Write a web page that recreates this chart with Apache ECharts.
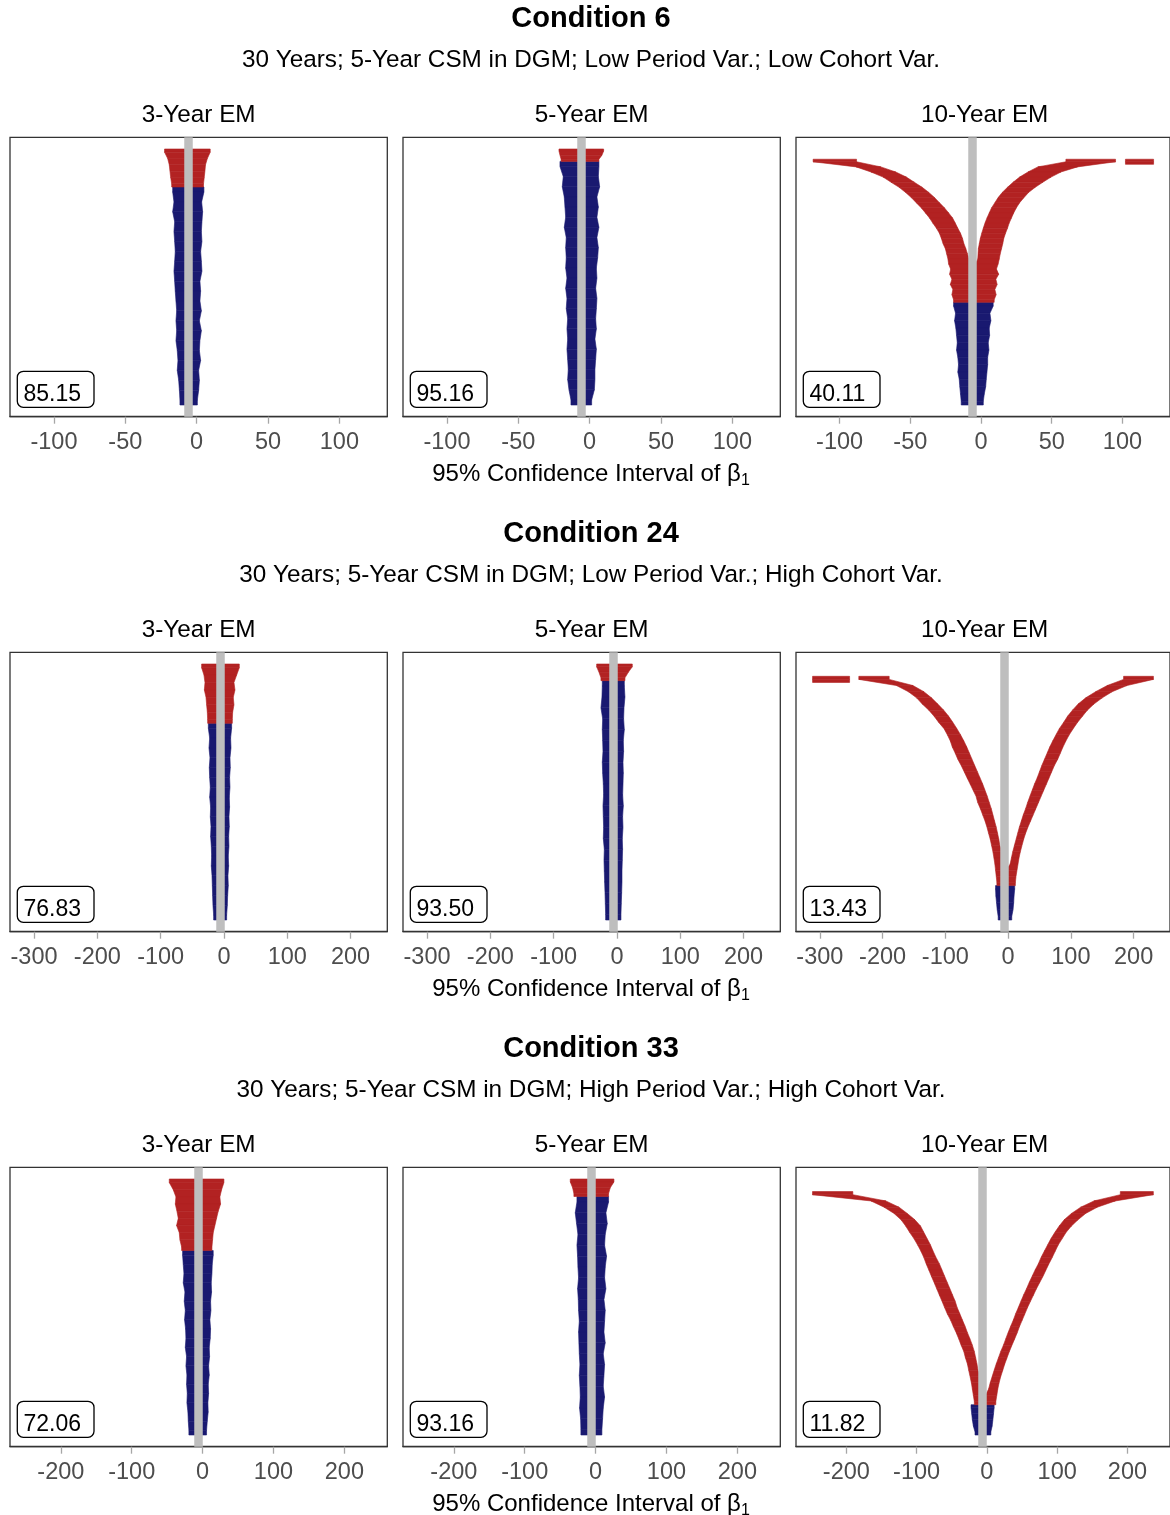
<!DOCTYPE html>
<html>
<head>
<meta charset="utf-8">
<script src="https://cdn.jsdelivr.net/npm/echarts@6/dist/echarts.min.js"></script>
<style>
  html, body { margin: 0; padding: 0; background: #fff; }
  #chart { width: 1170px; height: 1515px; }
</style>
</head>
<body>
<div id="chart"></div>
<script>
const conditions = ["Condition 6", "Condition 24", "Condition 33"];
const subtitles = [
  "30 Years; 5-Year CSM in DGM; Low Period Var.; Low Cohort Var.",
  "30 Years; 5-Year CSM in DGM; Low Period Var.; High Cohort Var.",
  "30 Years; 5-Year CSM in DGM; High Period Var.; High Cohort Var."
];
const models = ["3-Year EM", "5-Year EM", "10-Year EM"];
const coverage = [[85.15, 95.16, 40.11], [76.83, 93.50, 13.43], [72.06, 93.16, 11.82]];
const trueBeta = -6;
const xRanges = [[-130.8, 133.6], [-338, 258], [-271.7, 260.6]];
const xTicks = [[-100, -50, 0, 50, 100], [-300, -200, -100, 0, 100, 200], [-200, -100, 0, 100, 200]];

// rows sorted top to bottom; missLeft / missRight = intervals entirely below / above beta,
// cover = intervals containing beta. null = interval outside the plotted range.
const c6m3MissLeft = [[-22.5, -8], [-20.3, -8], [-19.2, -8], [-18.7, -8], [-18.2, -8], [-17.5, -8]];
const c6m3MissRight = [[-4, 9.5], [-4, 7.5], [-4, 6.2], [-4, 5.8], [-4, 5.3], [-4, 4.8]];
const c6m3Cover = [[-16.8, 5.1], [-15.9, 3.5], [-16.8, 4.2], [-15.4, 3.7], [-15.9, 3.3], [-15.4, 3.7],
  [-15.0, 2.8], [-15.4, 3.3], [-15.9, 3.7], [-15.4, 2.3], [-15.0, 2.8], [-14.5, 2.3], [-14.0, 3.3],
  [-14.5, 1.9], [-14.0, 3.3], [-14.5, 2.3], [-13.6, 1.9], [-13.1, 2.8], [-13.6, 1.4], [-12.6, 1.9],
  [-12.1, 1.4], [-11.7, 0.5]];

const c6m5MissLeft = [[-21.5, -8], [-20.8, -8], [-20.0, -8]];
const c6m5MissRight = [[-4, 9.8], [-4, 8.6], [-4, 6.5]];
const c6m5Cover = [[-20.8, 6.5], [-18.5, 6.1], [-19.2, 7.0], [-17.8, 5.1], [-17.3, 6.1], [-16.8, 5.1],
  [-17.8, 6.5], [-16.4, 5.1], [-16.8, 6.1], [-16.4, 5.6], [-16.8, 4.7], [-15.9, 5.1], [-16.8, 4.2],
  [-15.9, 5.1], [-16.4, 4.7], [-15.4, 4.2], [-15.9, 4.7], [-15.4, 3.7], [-15.9, 4.7], [-15.4, 4.2],
  [-15.0, 3.7], [-15.4, 3.7], [-14.5, 3.3], [-13.1, 1.4]];

const c6m10MissLeft = [null, null, [-118.7, -88], [-88.3, -70.8], [-77.8, -60.3], [-69.2, -52.8],
  [-63.6, -47.2], [-57.9, -41.6], [-53.3, -36.9], [-49.3, -32.9], [-45.8, -29.4], [-42.3, -25.9],
  [-39.3, -22.9], [-36.4, -20.1], [-34.1, -18.2], [-31.5, -16.4], [-29.4, -14.5], [-28.0, -13.1],
  [-26.9, -12.1], [-25.2, -10.7], [-24.3, -9.6], [-23.4, -8.5], [-22.9, -8], [-21.5, -8], [-22.2, -8],
  [-20.6, -8], [-21.7, -8], [-19.9, -8], [-20.6, -8], [-19.4, -8]];
const c6m10MissRight = [null, null, [60, 95.1], [40.2, 68.2], [33.2, 56.5], [27.3, 49.5],
  [22.7, 43.7], [18.7, 38.3], [15.0, 33.6], [12.1, 30.4], [9.8, 27.3], [7.5, 25.0],
  [5.8, 23.1], [4.2, 21.5], [2.8, 19.9], [1.6, 18.7], [0.5, 17.3], [-0.5, 16.1],
  [-1.2, 15.4], [-1.9, 14.5], [-2.1, 13.6], [-2.3, 12.9], [-4, 12.1], [-4, 10.9], [-4, 12.5],
  [-4, 10.5], [-4, 11.4], [-4, 9.8], [-4, 10.7], [-4, 9.3]];
const c6m10Extra = [[2, 102.1, 122.0]];
const c6m10Cover = [[-19.4, 8.6], [-18.0, 6.3], [-18.7, 7.0], [-17.8, 5.8], [-17.3, 6.1], [-16.8, 5.1],
  [-17.3, 5.6], [-16.4, 4.7], [-15.9, 4.7], [-16.4, 4.2], [-15.4, 3.7], [-15.0, 3.3], [-14.5, 2.3],
  [-14.0, 1.6]];

const c24m3MissLeft = [[-35.3, -9], [-31.6, -9], [-30.0, -9], [-31.0, -9], [-28.4, -9], [-27.4, -9],
  [-26.3, -9], [-25.8, -9]];
const c24m3MissRight = [[-3, 24.2], [-3, 20.0], [-3, 15.8], [-3, 17.4], [-3, 14.7], [-3, 15.8],
  [-3, 13.7], [-3, 13.2]];
const c24m3Cover = [[-24.7, 12.1], [-22.6, 10.5], [-23.7, 11.1], [-22.1, 9.5], [-23.2, 10.0],
  [-22.6, 8.9], [-21.6, 9.5], [-22.6, 8.4], [-21.1, 8.9], [-21.6, 7.9], [-20.5, 8.4], [-21.1, 7.4],
  [-20.0, 7.9], [-19.5, 6.8], [-20.0, 7.4], [-18.9, 6.3], [-18.4, 6.8], [-17.9, 5.8], [-17.4, 5.3],
  [-16.3, 4.2]];

const c24m5MissLeft = [[-32.1, -9], [-28.4, -9], [-25.3, -9]];
const c24m5MissRight = [[-3, 24.2], [-3, 17.9], [-3, 12.6]];
const c24m5Cover = [[-23.2, 11.6], [-23.7, 12.6], [-25.3, 11.1], [-22.6, 10.5], [-23.2, 11.6],
  [-22.6, 10.0], [-22.1, 10.5], [-23.2, 9.5], [-22.6, 10.0], [-21.6, 9.5], [-21.1, 9.0], [-22.1, 10.0],
  [-21.6, 8.9], [-21.1, 9.5], [-21.6, 8.4], [-20.0, 8.9], [-20.5, 8.4], [-20.0, 7.9], [-19.5, 7.9],
  [-18.9, 7.4], [-18.4, 6.8], [-17.9, 6.3]];

const c24m10MissLeft = [null, null, [-237.9, -189.5], [-177.9, -151.6], [-158.9, -134.2],
  [-145.8, -122.1], [-136.8, -112.1], [-126.3, -102.6], [-117.9, -94.7], [-110.5, -87.9],
  [-102.1, -81.6], [-96.8, -75.8], [-92.1, -70.5], [-88.9, -65.8], [-84.2, -61.6], [-80.0, -57.4],
  [-74.7, -53.2], [-70.0, -48.9], [-65.3, -44.7], [-60.5, -40.5], [-55.8, -36.8], [-51.1, -33.2],
  [-48.4, -30.0], [-44.2, -26.8], [-40.5, -24.2], [-36.8, -21.6], [-33.7, -18.9], [-31.1, -16.8],
  [-28.4, -14.7], [-26.3, -13.2], [-24.2, -9], [-22.6, -9], [-21.1, -9], [-20.0, -9], [-18.9, -9],
  [-17.9, -9]];
const c24m10MissRight = [null, null, [184, 231.6], [157.9, 189.5], [139.5, 165.8], [123.7, 150.0],
  [111.6, 136.8], [102.6, 126.3], [94.7, 118.4], [88.4, 110.5], [81.6, 103.7], [76.3, 97.4],
  [71.1, 92.1], [66.3, 87.4], [62.1, 83.2], [57.9, 78.9], [53.7, 73.7], [50.0, 69.5], [46.3, 65.3],
  [42.1, 61.1], [38.4, 56.8], [34.7, 52.6], [31.1, 48.4], [27.9, 44.2], [24.2, 40.0], [21.1, 35.8],
  [17.9, 31.6], [15.3, 27.9], [12.6, 24.7], [10.0, 22.1], [7.4, 19.5], [5.3, 17.4], [3.2, 15.8],
  [-3, 14.2], [-3, 12.6], [-3, 11.6]];
const c24m10Extra = [[2, -311.6, -252.6]];
const c24m10Cover = [[-20.0, 10.5], [-19.5, 9.5], [-18.4, 8.9], [-17.4, 7.9], [-15.8, 5.8]];

const c33m3MissLeft = [[-47.0, -10], [-41.4, -10], [-37.6, -10], [-38.5, -10], [-36.2, -10],
  [-34.3, -10], [-36.7, -10], [-32.9, -10], [-32.0, -10], [-29.6, -10]];
const c33m3MissRight = [[-2, 30.1], [-2, 26.8], [-2, 24.4], [-2, 25.4], [-2, 22.1], [-2, 19.7],
  [-2, 17.4], [-2, 15.0], [-2, 14.1], [-2, 13.2]];
const c33m3Cover = [[-28.2, 15.0], [-27.3, 13.6], [-26.3, 13.2], [-27.3, 12.2], [-24.9, 12.7],
  [-25.9, 11.3], [-24.4, 11.8], [-25.4, 10.3], [-24.0, 11.3], [-23.5, 10.8], [-24.4, 9.4],
  [-22.6, 9.9], [-23.5, 8.5], [-22.1, 9.4], [-22.6, 8.0], [-21.6, 8.5], [-22.1, 7.5], [-20.7, 7.9],
  [-20.2, 6.6], [-19.3, 5.6]];

const c33m5MissLeft = [[-35.7, -9], [-32.4, -9], [-30.6, -9]];
const c33m5MissRight = [[-2, 25.9], [-2, 20.7], [-2, 18.3]];
const c33m5Cover = [[-26.3, 18.3], [-28.7, 14.6], [-26.8, 16.5], [-24.9, 13.6], [-26.3, 12.7],
  [-25.4, 15.5], [-24.9, 13.6], [-24.0, 12.7], [-25.4, 14.6], [-24.4, 11.8], [-24.0, 13.6],
  [-23.0, 12.7], [-24.0, 11.8], [-23.5, 13.6], [-23.0, 10.8], [-22.1, 12.7], [-23.0, 11.8],
  [-22.1, 10.8], [-21.6, 12.7], [-22.6, 10.8], [-21.1, 9.9], [-20.7, 8.9]];

const c33m10MissLeft = [null, null, [-248.2, -190.8], [-165.0, -143.8], [-146.2, -125.0],
  [-132.1, -113.3], [-122.2, -102.5], [-115.6, -94.5], [-110.0, -89.8], [-103.9, -85.1],
  [-98.7, -80.4], [-94.0, -76.6], [-89.8, -72.4], [-86.5, -67.7], [-82.7, -63.9], [-79.0, -60.2],
  [-75.2, -56.4], [-71.4, -52.6], [-67.7, -48.9], [-63.9, -45.1], [-60.2, -42.3], [-56.4, -38.5],
  [-51.7, -34.8], [-47.9, -31.0], [-43.7, -27.7], [-40.0, -24.0], [-36.7, -20.7], [-32.9, -17.9],
  [-30.6, -16.0], [-27.7, -14.1], [-25.9, -12.7], [-24.0, -9], [-22.1, -9], [-20.7, -9], [-19.3, -9],
  [-17.9, -9]];
const c33m10MissRight = [null, null, [189.9, 236.9], [152.3, 182.8], [133.5, 157.0], [120.3, 140.5],
  [110.0, 129.7], [102.9, 120.3], [96.8, 112.8], [91.2, 107.2], [86.5, 101.6], [81.8, 97.3],
  [77.1, 93.0], [73.3, 88.4], [68.6, 84.1], [64.4, 79.9], [60.2, 75.2], [56.4, 70.5], [52.2, 66.3],
  [48.4, 62.0], [44.7, 57.8], [40.9, 54.1], [37.6, 50.3], [33.8, 46.5], [30.1, 43.2], [26.8, 39.5],
  [23.5, 35.7], [19.7, 32.0], [16.5, 28.7], [13.2, 25.4], [10.3, 22.6], [7.5, 19.7], [4.7, 17.4],
  [2.4, 15.5], [-2, 14.1], [-2, 12.7]];
const c33m10Cover = [[-22.6, 10.3], [-21.6, 9.4], [-20.7, 8.5], [-19.3, 7.5], [-16.9, 5.6]];

const panels = [
  [
    { left: c6m3MissLeft, right: c6m3MissRight, cover: c6m3Cover, extra: [] },
    { left: c6m5MissLeft, right: c6m5MissRight, cover: c6m5Cover, extra: [] },
    { left: c6m10MissLeft, right: c6m10MissRight, cover: c6m10Cover, extra: c6m10Extra }
  ],
  [
    { left: c24m3MissLeft, right: c24m3MissRight, cover: c24m3Cover, extra: [] },
    { left: c24m5MissLeft, right: c24m5MissRight, cover: c24m5Cover, extra: [] },
    { left: c24m10MissLeft, right: c24m10MissRight, cover: c24m10Cover, extra: c24m10Extra }
  ],
  [
    { left: c33m3MissLeft, right: c33m3MissRight, cover: c33m3Cover, extra: [] },
    { left: c33m5MissLeft, right: c33m5MissRight, cover: c33m5Cover, extra: [] },
    { left: c33m10MissLeft, right: c33m10MissRight, cover: c33m10Cover, extra: [] }
  ]
];

const RED = "#b22222";
const BLUE = "#191970";
const FONT = "'Liberation Sans', Arial, Helvetica, sans-serif";

const gridLefts = [10, 403, 796];
const gridW = 377.3;
const gridH = 279.4;
const firstTop = 137.3;
const rowStep = 515;

// turn a run of interval rows [lo, hi, yTop, yBottom] into band pieces
function band(rows) {
  const out = [];
  let run = [];
  const flush = () => {
    if (!run.length) return;
    const f = run[0], l = run[run.length - 1];
    const pts = [[f[0], f[1], f[2]]];
    run.forEach(r => pts.push([r[0], r[1], (r[2] + r[3]) / 2]));
    pts.push([l[0], l[1], l[3]]);
    for (let k = 0; k < pts.length - 1; k++) out.push(pts[k].concat(pts[k + 1]));
    run = [];
  };
  rows.forEach(r => { if (r) run.push(r); else flush(); });
  flush();
  return out;
}

function renderBand(params, api) {
  const color = api.visual("color");
  return {
    type: "polygon",
    shape: {
      points: [
        api.coord([api.value(0), api.value(2)]),
        api.coord([api.value(1), api.value(2)]),
        api.coord([api.value(4), api.value(5)]),
        api.coord([api.value(3), api.value(5)])
      ]
    },
    style: { fill: color, stroke: color, lineWidth: 0.6 }
  };
}

const grids = [], xAxes = [], yAxes = [], series = [], graphics = [];

conditions.forEach((cond, r) => {
  const off = r * rowStep;
  graphics.push({
    type: "text", x: 591, y: 19 + off,
    style: { text: cond, font: "bold 29px " + FONT, fill: "#000", align: "center", verticalAlign: "middle" }
  });
  graphics.push({
    type: "text", x: 591, y: 60.5 + off,
    style: { text: subtitles[r], font: "24.3px " + FONT, fill: "#000", align: "center", verticalAlign: "middle" }
  });
  graphics.push({
    type: "text", x: 591, y: 474 + off,
    style: {
      text: "{m|95% Confidence Interval of β}{s|1}",
      align: "center", verticalAlign: "middle",
      rich: {
        m: { font: "24px " + FONT, fill: "#000", lineHeight: 30 },
        s: { font: "16px " + FONT, fill: "#000", lineHeight: 14, verticalAlign: "bottom" }
      }
    }
  });

  models.forEach((model, c) => {
    const idx = grids.length;
    const gl = gridLefts[c];
    const gt = firstTop + off;
    grids.push({
      left: gl, top: gt, width: gridW, height: gridH,
      show: true, borderColor: "#333", borderWidth: 1.3, backgroundColor: "#fff"
    });
    xAxes.push({
      gridIndex: idx, type: "value", position: "bottom", min: xRanges[r][0], max: xRanges[r][1],
      axisLine: { show: true, onZero: false, lineStyle: { color: "#333", width: 1.3 } },
      splitLine: { show: false },
      axisTick: {
        show: true, inside: false, length: 7, customValues: xTicks[r],
        lineStyle: { color: "#a6a6a6", width: 1.3 }
      },
      axisLabel: { customValues: xTicks[r], color: "#4d4d4d", fontSize: 23.5, fontFamily: FONT, margin: 14 }
    });
    yAxes.push({
      gridIndex: idx, type: "value", inverse: true, min: -4.57, max: 104.57, show: false
    });

    const p = panels[r][c];
    const cov = coverage[r][c];
    const missShare = 100 - cov;
    const hRed = missShare / p.left.length;
    const toRows = (list, h, start) => list.map((seg, i) =>
      seg ? [seg[0], seg[1], start + i * h, start + (i + 1) * h] : null);

    const redData = band(toRows(p.left, hRed, 0))
      .concat(band(toRows(p.right, hRed, 0)))
      .concat(band(p.extra.map(e => [e[1], e[2], e[0] * hRed, (e[0] + 1) * hRed])));
    const blueData = band(toRows(p.cover, cov / p.cover.length, missShare));

    series.push({
      type: "custom", xAxisIndex: idx, yAxisIndex: idx, clip: true,
      renderItem: renderBand, itemStyle: { color: BLUE },
      encode: { x: [0, 1, 3, 4], y: [2, 5] }, data: blueData, silent: true
    });
    series.push({
      type: "custom", xAxisIndex: idx, yAxisIndex: idx, clip: true,
      renderItem: renderBand, itemStyle: { color: RED },
      encode: { x: [0, 1, 3, 4], y: [2, 5] }, data: redData, silent: true,
      markLine: {
        silent: true, symbol: ["none", "none"], animation: false,
        label: { show: false },
        lineStyle: { color: "#bebebe", width: 8.5, type: "solid" },
        emphasis: { disabled: true },
        data: [{ xAxis: trueBeta }]
      }
    });

    graphics.push({
      type: "text", x: gl + gridW / 2, y: 115 + off,
      style: { text: model, font: "24.3px " + FONT, fill: "#000", align: "center", verticalAlign: "middle" }
    });
    graphics.push({
      type: "rect", z: 10,
      shape: { x: gl + 7.3, y: gt + 234, width: 76.7, height: 36, r: 6 },
      style: { fill: "#fff", stroke: "#000", lineWidth: 1.3 }
    });
    graphics.push({
      type: "text", z: 11, x: gl + 13.5, y: gt + 257,
      style: { text: cov.toFixed(2), font: "23px " + FONT, fill: "#000", align: "left", verticalAlign: "middle" }
    });
  });
});

const chart = echarts.init(document.getElementById("chart"));
chart.setOption({
  animation: false,
  backgroundColor: "#fff",
  grid: grids,
  xAxis: xAxes,
  yAxis: yAxes,
  series: series,
  graphic: graphics
});
</script>
</body>
</html>
